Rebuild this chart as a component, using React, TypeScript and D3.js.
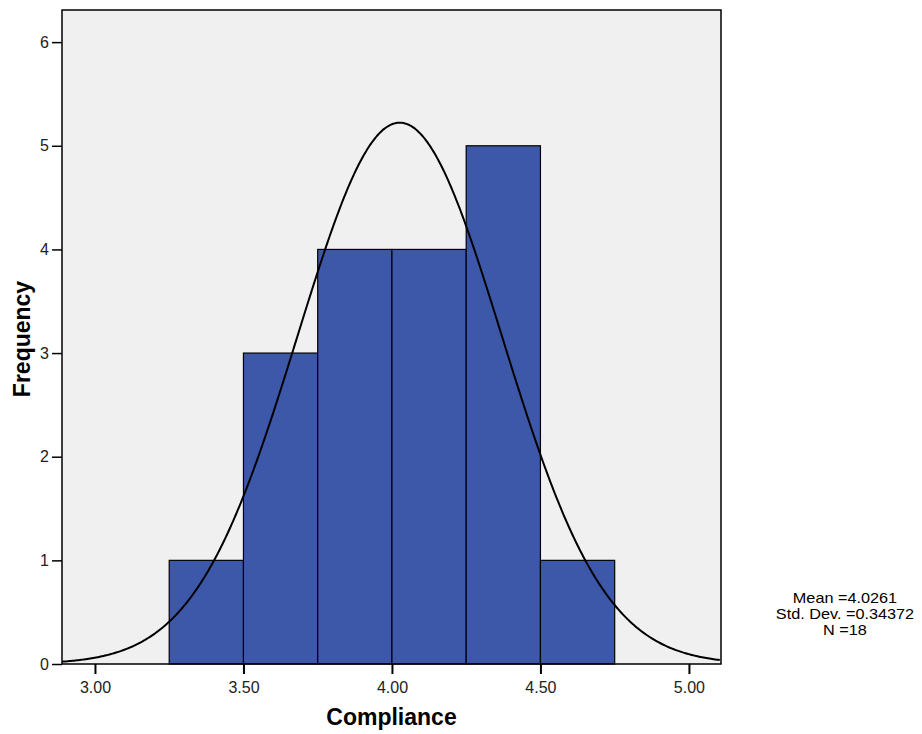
import React, { useRef, useEffect } from "react";
import * as d3 from "d3";

// histogram bins (lower edge, upper edge, count)
const binStarts = [3.25, 3.5, 3.75, 4.0, 4.25, 4.5];
const binWidth = 0.25;
const counts = [1, 3, 4, 4, 5, 1];

const xTicks = [3.0, 3.5, 4.0, 4.5, 5.0];
const yTicks = [0, 1, 2, 3, 4, 5, 6];

const mean = 4.0261;
const stdDev = 0.34372;
const n = 18;
const statsLines = ["Mean =4.0261", "Std. Dev. =0.34372", "N =18"];

const W = 922;
const H = 734;
const plot = { left: 62, right: 721, top: 10, bottom: 664 };

const App = () => {
  const svgRef = useRef<SVGSVGElement | null>(null);

  useEffect(() => {
    const svg = d3.select(svgRef.current);
    svg.selectAll("*").remove();

    const x = d3.scaleLinear().domain([2.889, 5.108]).range([plot.left, plot.right]);
    const y = d3.scaleLinear().domain([0, 6.31]).range([plot.bottom, plot.top]);

    // background
    svg.append("rect")
      .attr("x", plot.left)
      .attr("y", plot.top)
      .attr("width", plot.right - plot.left)
      .attr("height", plot.bottom - plot.top)
      .attr("fill", "#f0f0f0");

    // bars
    svg.selectAll(".bar")
      .data(binStarts.map((s, i) => ({ s, c: counts[i] })))
      .join("rect")
      .attr("class", "bar")
      .attr("x", (d) => x(d.s))
      .attr("y", (d) => y(d.c))
      .attr("width", (d) => x(d.s + binWidth) - x(d.s))
      .attr("height", (d) => y(0) - y(d.c))
      .attr("fill", "#3e58a9")
      .attr("stroke", "#000")
      .attr("stroke-width", 1.2);

    // fitted normal curve
    const pts = d3.range(2.889, 5.108, 0.005).map((v) => ({
      v,
      f: (n * binWidth) / (stdDev * Math.sqrt(2 * Math.PI)) *
        Math.exp(-0.5 * ((v - mean) / stdDev) ** 2),
    }));
    const curve = d3.line<{ v: number; f: number }>()
      .x((d) => x(d.v))
      .y((d) => y(d.f))
      .curve(d3.curveBasis);
    svg.append("path")
      .attr("d", curve(pts))
      .attr("fill", "none")
      .attr("stroke", "#000")
      .attr("stroke-width", 2);

    // frame
    svg.append("rect")
      .attr("x", plot.left)
      .attr("y", plot.top)
      .attr("width", plot.right - plot.left)
      .attr("height", plot.bottom - plot.top)
      .attr("fill", "none")
      .attr("stroke", "#000")
      .attr("stroke-width", 1.5);

    const font = "Liberation Sans, Arial, sans-serif";

    // x axis
    const xAxis = d3.axisBottom(x).tickValues(xTicks).tickSize(10).tickPadding(8)
      .tickFormat((d) => d3.format(".2f")(d as number));
    const gx = svg.append("g").attr("transform", `translate(0,${plot.bottom})`).call(xAxis);
    gx.select(".domain").remove();
    gx.selectAll("line").attr("stroke", "#000").attr("stroke-width", 2);
    gx.selectAll("text").attr("font-family", font).attr("font-size", 16).attr("fill", "#222");

    // y axis
    const yAxis = d3.axisLeft(y).tickValues(yTicks).tickSize(10).tickPadding(3)
      .tickFormat(d3.format("d"));
    const gy = svg.append("g").attr("transform", `translate(${plot.left},0)`).call(yAxis);
    gy.select(".domain").remove();
    gy.selectAll("line").attr("stroke", "#000").attr("stroke-width", 1.5);
    gy.selectAll("text").attr("font-family", font).attr("font-size", 16).attr("fill", "#222");

    // axis titles
    svg.append("text")
      .attr("x", (plot.left + plot.right) / 2)
      .attr("y", 725)
      .attr("text-anchor", "middle")
      .attr("font-family", font)
      .attr("font-weight", "bold")
      .attr("font-size", 23)
      .text("Compliance");

    svg.append("text")
      .attr("transform", `translate(30,${(plot.top + plot.bottom) / 2 + 2}) rotate(-90)`)
      .attr("text-anchor", "middle")
      .attr("font-family", font)
      .attr("font-weight", "bold")
      .attr("font-size", 23)
      .text("Frequency");

    // stats legend (slightly wide glyphs, tight leading)
    svg.append("g")
      .selectAll("text")
      .data(statsLines)
      .join("text")
      .attr("x", 845)
      .attr("y", (d, i) => 603 + i * 16)
      .attr("text-anchor", "middle")
      .attr("font-family", font)
      .attr("font-size", 14.5)
      .attr("fill", "#000")
      .text((d) => d)
      .each(function () {
        const t = this as SVGTextElement;
        t.setAttribute("textLength", String(t.getComputedTextLength() * 1.12));
        t.setAttribute("lengthAdjust", "spacingAndGlyphs");
      });
  }, []);

  return (
    <svg
      ref={svgRef}
      width={W}
      height={H}
      style={{ position: "absolute", left: 0, top: 0, background: "#fff" }}
    />
  );
};

export default App;
